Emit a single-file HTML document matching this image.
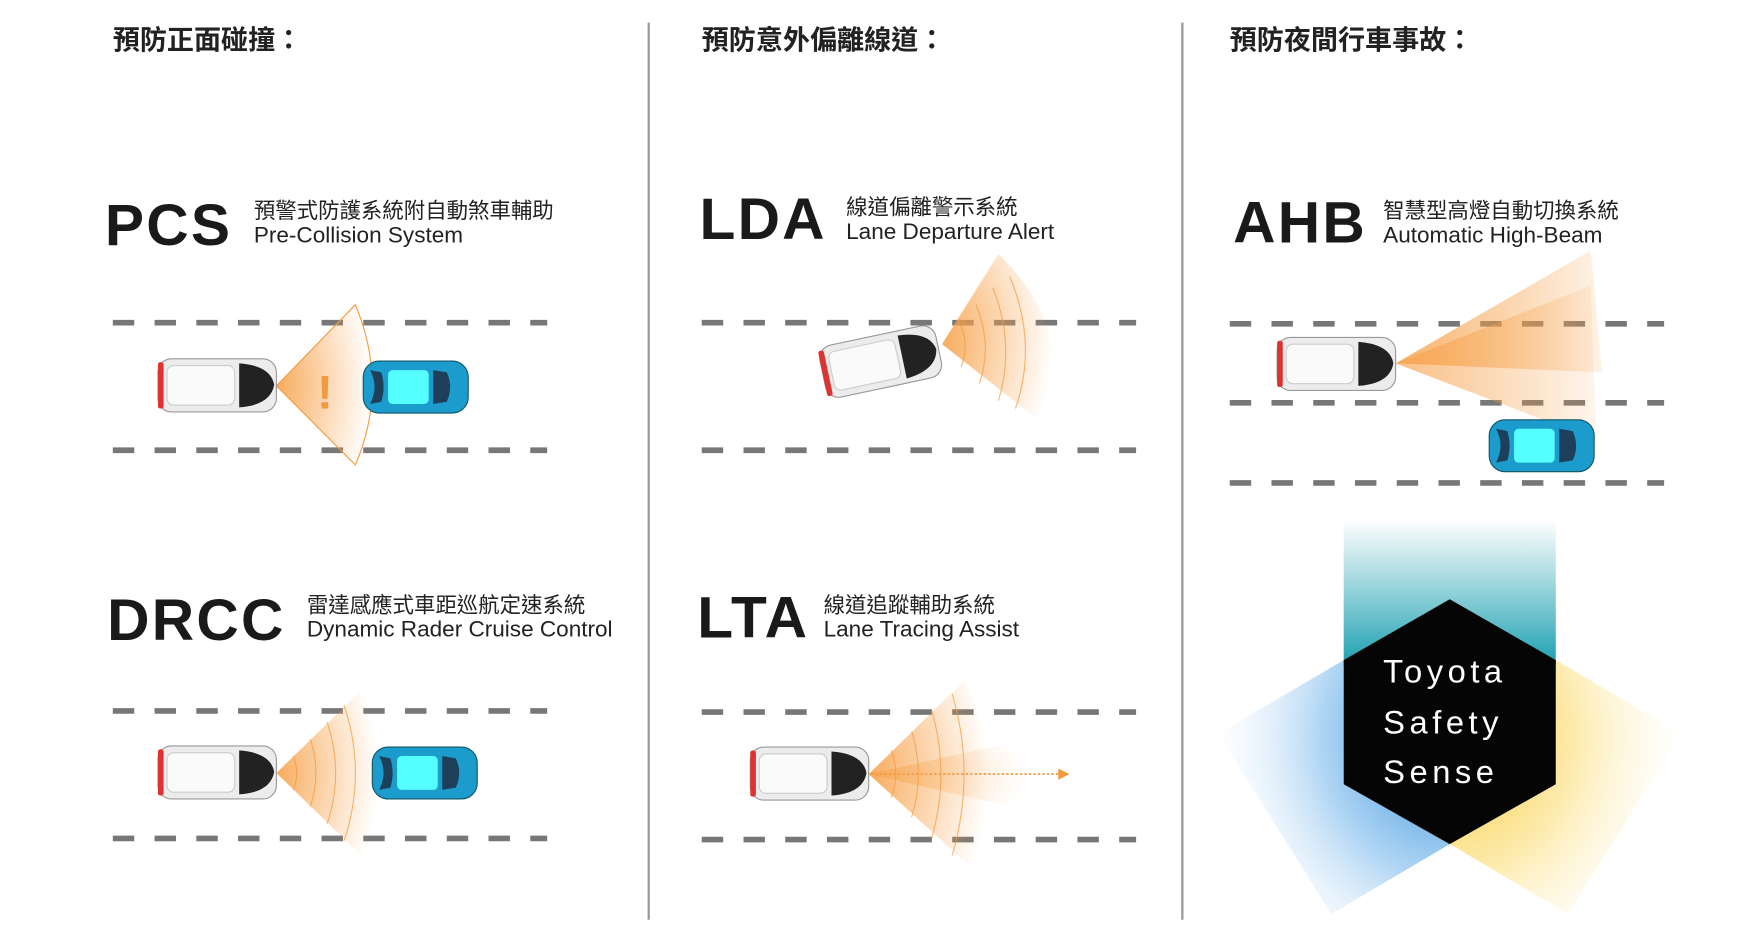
<!DOCTYPE html>
<html><head><meta charset="utf-8"><style>
html,body{margin:0;padding:0;background:#fff;width:1760px;height:940px;overflow:hidden}
svg{display:block}
text{font-family:"Liberation Sans","Noto Sans CJK TC",sans-serif;fill:#222}
.h{font-weight:bold;font-size:24px}
.big{font-weight:bold;font-size:52px;letter-spacing:2px;fill:#1a1a1a}
.zh{font-size:19px}
.en{font-size:20px}
.dash{stroke:#777;stroke-width:5;stroke-dasharray:19 18}
</style></head><body>
<svg width="1760" height="940" viewBox="0 0 1560 833" preserveAspectRatio="none" xmlns="http://www.w3.org/2000/svg">
<defs>
<radialGradient id="fan" cx="0" cy="0.5" r="1">
<stop offset="0" stop-color="#f7a24a" stop-opacity=".9"/><stop offset="1" stop-color="#f7a24a" stop-opacity="0"/></radialGradient>
<linearGradient id="beam" x1="0" x2="1"><stop offset="0" stop-color="#f6a048" stop-opacity=".95"/><stop offset="1" stop-color="#f6a048" stop-opacity=".15"/></linearGradient>
<linearGradient id="teal" x1="0" y1="0" x2="0" y2="1"><stop offset="0" stop-color="#2aa6b5" stop-opacity="0"/><stop offset="1" stop-color="#1a9fb0"/></linearGradient>
<radialGradient id="blue" cx="1" cy="0.3" r="1.1"><stop offset="0" stop-color="#1a7fd0"/><stop offset=".5" stop-color="#5aa8e8" stop-opacity=".5"/><stop offset="1" stop-color="#fff" stop-opacity="0"/></radialGradient>
<radialGradient id="yel" cx="0" cy="0.3" r="1.1"><stop offset="0" stop-color="#f8c21a"/><stop offset=".5" stop-color="#fbd860" stop-opacity=".5"/><stop offset="1" stop-color="#fff" stop-opacity="0"/></radialGradient>
<g id="wcar">
<rect x="0" y="0" width="105" height="47" rx="12" fill="#ececec" stroke="#999"/>
<rect x="0" y="3" width="5" height="41" rx="2" fill="#d33"/>
<rect x="8" y="6" width="60" height="35" rx="6" fill="#fafafa" stroke="#ccc"/>
<path d="M72 4 Q100 6 103 23 Q100 41 72 43 Z" fill="#222"/>
</g>
<g id="bcar">
<rect x="0" y="0" width="93" height="46" rx="14" fill="#1c9ccc" stroke="#156"/>
<rect x="22" y="8" width="36" height="30" rx="4" fill="#5ff"/>
<path d="M6 8 Q14 23 6 38 L16 36 Q20 23 16 10Z" fill="#1d3f5a"/>
<path d="M62 8 L74 10 Q80 23 74 36 L62 38 Z" fill="#1d3f5a"/>
</g>
</defs>
<line x1="575" y1="20" x2="575" y2="815" stroke="#999" stroke-width="2"/>
<line x1="1048" y1="20" x2="1048" y2="815" stroke="#999" stroke-width="2"/>
<text class="h" x="100" y="44">預防正面碰撞：</text>
<text class="h" x="622" y="44">預防意外偏離線道：</text>
<text class="h" x="1090" y="44">預防夜間行車事故：</text>

<text class="big" x="93" y="217">PCS</text>
<text class="zh" x="225" y="193">預警式防護系統附自動煞車輔助</text>
<text class="en" x="225" y="215">Pre-Collision System</text>
<text class="big" x="620" y="212">LDA</text>
<text class="zh" x="750" y="190">線道偏離警示系統</text>
<text class="en" x="750" y="212">Lane Departure Alert</text>
<text class="big" x="1093" y="215">AHB</text>
<text class="zh" x="1226" y="193">智慧型高燈自動切換系統</text>
<text class="en" x="1226" y="215">Automatic High-Beam</text>
<text class="big" x="95" y="567">DRCC</text>
<text class="zh" x="272" y="543">雷達感應式車距巡航定速系統</text>
<text class="en" x="272" y="564">Dynamic Rader Cruise Control</text>
<text class="big" x="618" y="565">LTA</text>
<text class="zh" x="730" y="543">線道追蹤輔助系統</text>
<text class="en" x="730" y="564">Lane Tracing Assist</text>

<g class="dash">
<line x1="100" y1="286" x2="485" y2="286"/><line x1="100" y1="399" x2="485" y2="399"/>
<line x1="622" y1="286" x2="1007" y2="286"/><line x1="622" y1="399" x2="1007" y2="399"/>
<line x1="1090" y1="287" x2="1475" y2="287"/><line x1="1090" y1="357" x2="1475" y2="357"/><line x1="1090" y1="428" x2="1475" y2="428"/>
<line x1="100" y1="630" x2="485" y2="630"/><line x1="100" y1="743" x2="485" y2="743"/>
<line x1="622" y1="631" x2="1007" y2="631"/><line x1="622" y1="744" x2="1007" y2="744"/>
</g>

<path d="M245 342 L315 270 Q345 342 315 412 Z" fill="url(#fan)" stroke="#f39a3e" stroke-width="1"/>
<text x="281" y="362" style="font-size:42px;font-weight:bold;fill:#f39a3e">!</text>
<use href="#wcar" x="140" y="318"/>
<use href="#bcar" x="322" y="320"/>
<path d="M835 305 L885 225 Q960 300 920 372 Z" fill="url(#fan)"/>
<g fill="none" stroke="#f39a3e" stroke-width="1" opacity=".7">
<path d="M850 285 Q860 305 852 325"/><path d="M865 270 Q880 305 868 340"/><path d="M880 255 Q900 305 885 355"/><path d="M895 245 Q920 305 900 362"/></g>
<g transform="rotate(-12 780 320)"><use href="#wcar" x="728" y="297"/></g>
<path d="M1237 322 L1410 222 L1420 330 Z" fill="url(#beam)" opacity=".85"/>
<path d="M1237 322 L1410 253 L1415 390 Z" fill="url(#beam)" opacity=".7"/>
<use href="#wcar" x="1132" y="299"/>
<use href="#bcar" x="1320" y="372"/>
<path d="M245 685 L320 612 Q350 685 320 758 Z" fill="url(#fan)"/>
<g fill="none" stroke="#f39a3e" stroke-width="1" opacity=".7">
<path d="M260 670 Q266 685 260 700"/><path d="M275 655 Q285 685 275 715"/><path d="M290 640 Q305 685 290 730"/><path d="M305 625 Q325 685 305 745"/></g>
<use href="#wcar" x="140" y="661"/>
<use href="#bcar" x="330" y="662"/>
<path d="M770 686 L855 603 Q895 686 860 768 Z" fill="url(#fan)"/>
<path d="M770 686 L910 655 L910 718 Z" fill="url(#fan)" opacity=".6"/>
<g fill="none" stroke="#f39a3e" stroke-width="1" opacity=".7">
<path d="M790 665 Q798 686 790 707"/><path d="M808 648 Q820 686 808 724"/><path d="M826 630 Q842 686 826 742"/><path d="M844 615 Q865 686 844 758"/></g>
<line x1="772" y1="686" x2="940" y2="686" stroke="#f39a3e" stroke-width="1.5" stroke-dasharray="2 2"/>
<path d="M938 681 L948 686 L938 691 Z" fill="#f39a3e"/>
<use href="#wcar" x="665" y="662"/>

<rect x="1191" y="460" width="188" height="130" fill="url(#teal)"/>
<path d="M1191 585 L1080 650 L1180 810 L1285 748 L1191 695 Z" fill="url(#blue)"/>
<path d="M1379 585 L1490 650 L1390 810 L1285 748 L1379 695 Z" fill="url(#yel)"/>
<polygon points="1285,531 1379,585 1379,695 1285,748 1191,695 1191,585" fill="#050505"/>
<text x="1226" y="605" style="fill:#fff;font-size:29px;letter-spacing:4px">Toyota</text>
<text x="1226" y="650" style="fill:#fff;font-size:29px;letter-spacing:4px">Safety</text>
<text x="1226" y="694" style="fill:#fff;font-size:29px;letter-spacing:4px">Sense</text>
</svg>
</body></html>
